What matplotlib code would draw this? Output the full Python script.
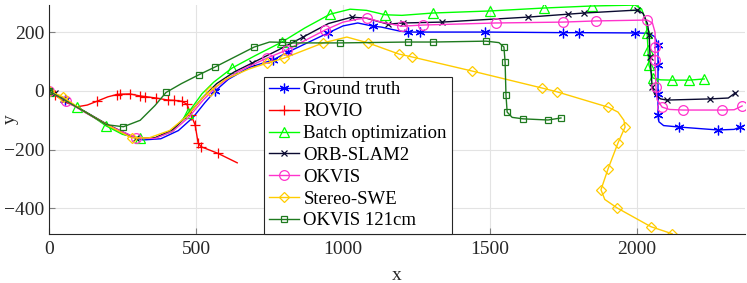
import matplotlib.pyplot as plt

plt.rcParams['font.family'] = ['Liberation Serif', 'DejaVu Serif']

# Ground truth
gt_x = [0, 55, 120, 200, 260, 320, 380, 440, 490, 530, 565, 610, 680, 762, 813, 880, 949, 1000, 1050, 1102,
        1130, 1194, 1221, 1262, 1483, 1748, 1803, 1993, 2040, 2060, 2071, 2071, 2071, 2071, 2074, 2090, 2143, 2275, 2330, 2350]
gt_y = [0, -30, -70, -118, -150, -167, -163, -135, -90, -40, 0, 40, 80, 106, 133, 165, 198, 222, 232, 221,
        218, 204, 201, 201, 201, 199, 199, 198, 197, 185, 157, 89, -10, -82, -105, -118, -123, -133, -131, -123]
gt_m = [0, 1, 10, 13, 14, 16, 19, 22, 23, 24, 25, 26, 27, 30, 31, 32, 33, 36, 37, 39]

# ROVIO
ro_x = [0, 20, 60, 95, 130, 163, 200, 231, 241, 275, 310, 327, 364, 405, 425, 451, 469, 483, 497, 507, 517, 575, 640]
ro_y = [0, -14, -40, -54, -48, -35, -20, -12, -11, -10, -17, -19, -24, -31, -32, -35, -45, -82, -116, -177, -190, -213, -245]
ro_m = [0, 1, 5, 7, 8, 9, 10, 11, 12, 13, 14, 15, 16, 17, 18, 19, 20, 21]

# Batch optimization
bo_x = [0, 50, 95, 150, 194, 250, 309, 360, 420, 473, 520, 560, 622, 700, 792, 870, 956, 1024, 1080, 1143, 1200,
        1306, 1500, 1683, 1847, 1993, 2015, 2030, 2034, 2037, 2040, 2054, 2080, 2119, 2177, 2228]
bo_y = [0, -28, -55, -88, -119, -148, -160, -160, -138, -75, -10, 30, 78, 120, 167, 215, 262, 279, 275, 260, 258,
        266, 273, 283, 290, 293, 280, 240, 197, 140, 89, 44, 38, 37, 37, 41]
bo_m = [0, 2, 4, 6, 9, 12, 14, 16, 19, 21, 22, 23, 24, 25, 28, 29, 30, 31, 33, 34, 35]

# ORB-SLAM2
orb_x = [0, 20, 47, 100, 200, 297, 360, 420, 470, 520, 570, 630, 690, 780, 864, 950, 1030, 1080, 1153, 1204, 1336,
         1629, 1765, 1820, 2000, 2020, 2035, 2041, 2044, 2051, 2060, 2080, 2101, 2248, 2310, 2333]
orb_y = [0, -8, -27, -57, -115, -162, -160, -132, -85, -25, 25, 65, 95, 140, 184, 230, 252, 248, 228, 232, 235,
         252, 262, 266, 276, 265, 230, 191, 116, 14, -12, -27, -31, -27, -24, -7]
orb_m = [0, 1, 2, 5, 12, 14, 16, 18, 19, 20, 21, 22, 23, 24, 27, 28, 29, 32, 33, 35]

# OKVIS
ok_x = [0, 57, 120, 200, 297, 360, 420, 475, 525, 570, 640, 741, 809, 870, 939, 1000, 1050, 1082, 1130, 1200, 1272,
        1520, 1748, 1860, 2034, 2052, 2061, 2061, 2061, 2064, 2068, 2085, 2110, 2156, 2289, 2330, 2357]
ok_y = [0, -34, -72, -117, -160, -162, -138, -90, -30, 15, 65, 112, 140, 172, 208, 235, 245, 249, 235, 221, 225,
        232, 235, 239, 242, 232, 200, 150, 106, 14, -30, -55, -63, -65, -65, -64, -51]
ok_m = [0, 1, 4, 11, 12, 14, 17, 19, 20, 21, 22, 23, 24, 27, 28, 29, 31, 33, 34, 36]

# Stereo-SWE
sw_x = [0, 47, 120, 200, 281, 340, 410, 470, 520, 548, 600, 680, 741, 799, 932, 1013, 1085, 1190, 1235, 1439,
        1677, 1728, 1901, 1935, 1955, 1959, 1935, 1901, 1877, 1890, 1932, 2047, 2119]
sw_y = [0, -20, -70, -117, -160, -160, -135, -85, -25, 0, 40, 75, 95, 112, 164, 184, 164, 126, 116, 68,
        10, -3, -55, -72, -100, -123, -177, -266, -337, -370, -399, -463, -487]
sw_m = [0, 1, 4, 9, 12, 13, 14, 16, 17, 18, 19, 20, 21, 22, 25, 26, 27, 28, 30, 31, 32]

# OKVIS 121cm
o121_x = [0, 60, 120, 195, 253, 310, 360, 398, 450, 511, 565, 698, 750, 792, 830, 990, 1221, 1306, 1486, 1530,
          1547, 1551, 1554, 1558, 1575, 1612, 1697, 1741]
o121_y = [0, -35, -70, -115, -122, -100, -50, -5, 25, 56, 82, 150, 167, 166, 164, 164, 167, 167, 170, 165,
          150, 99, -14, -72, -90, -95, -99, -92]
o121_m = [0, 4, 7, 9, 10, 11, 13, 14, 15, 16, 17, 18, 20, 21, 22, 23, 25, 26, 27]

series = [
    ('Ground truth', gt_x, gt_y, gt_m, '#0000ff', (6, 2, 0), 7),
    ('ROVIO', ro_x, ro_y, ro_m, '#ff0000', '+', 7),
    ('Batch optimization', bo_x, bo_y, bo_m, '#00ff00', '^', 7),
    ('ORB-SLAM2', orb_x, orb_y, orb_m, '#0a0a30', 'x', 5),
    ('OKVIS', ok_x, ok_y, ok_m, '#ff33cc', 'o', 7),
    ('Stereo-SWE', sw_x, sw_y, sw_m, '#ffcc00', 'D', 5.5),
    ('OKVIS 121cm', o121_x, o121_y, o121_m, '#1f7a1f', 's', 5),
]

fig = plt.figure(figsize=(7.47, 2.83), dpi=100)
ax = fig.add_axes([0.0656, 0.173, 0.9314, 0.809])

for name, xs, ys, mk, col, mrk, ms in series:
    ax.plot(xs, ys, color=col, lw=1, marker=mrk, markevery=mk, ms=ms,
            mfc='none', mec=col, mew=0.9, label=name)

ax.set_xlim(0, 2366)
ax.set_ylim(-488, 293)
ax.set_xticks([0, 500, 1000, 1500, 2000])
ax.set_yticks([-400, -200, 0, 200])
ax.grid(True, color='#e3e3e3', lw=0.8)
ax.set_axisbelow(True)
for s in ['top', 'right']:
    ax.spines[s].set_visible(False)
for s in ['left', 'bottom']:
    ax.spines[s].set_color('#262626')
ax.tick_params(direction='in', length=4, color='#808080', labelsize=14, labelcolor='#262626')
ax.tick_params(axis='x', pad=5)
ax.set_xlabel('x', fontsize=14, color='#262626', va='baseline')
ax.set_ylabel('y', fontsize=14, color='#262626', va='center')
ax.xaxis.set_label_coords(0.5, -0.2)
ax.yaxis.set_label_coords(-0.055, 0.5)

leg = ax.legend(loc='lower left', bbox_to_anchor=(0.309, 0), borderaxespad=0, fontsize=13.5,
                labelspacing=0.25, handlelength=1.6, handletextpad=0.25, borderpad=0.25,
                fancybox=False, framealpha=1, edgecolor='#262626')
leg.get_frame().set_linewidth(0.8)

fig.savefig('out.png', dpi=100)
